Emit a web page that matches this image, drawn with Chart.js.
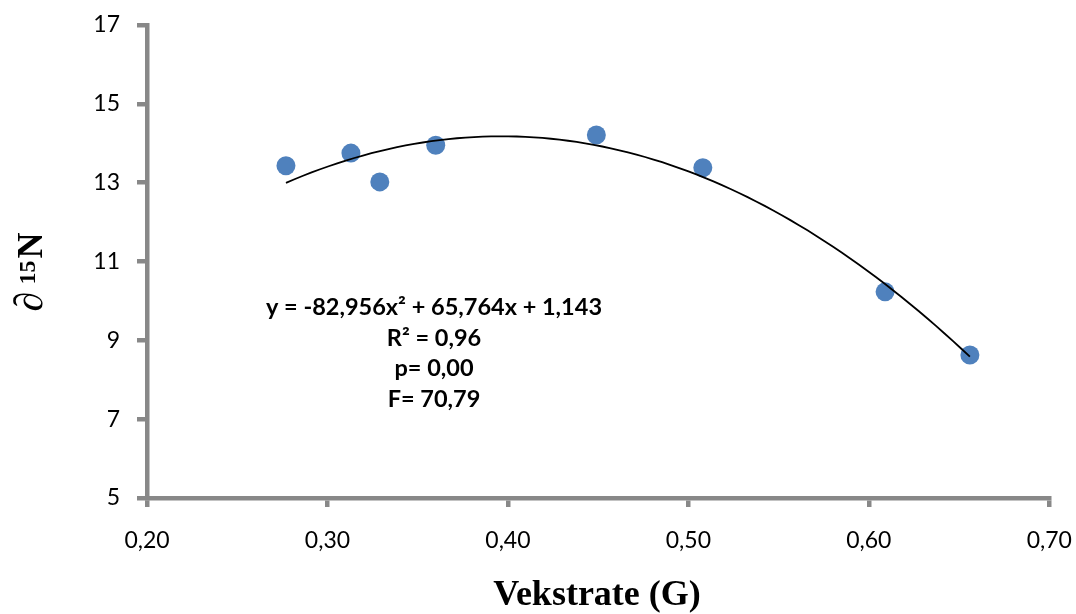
<!DOCTYPE html>
<html>
<head>
    <meta charset="UTF-8">
    <title>Vekstrate og d15N</title>
    <script src="https://cdn.jsdelivr.net/npm/chart.js"></script>
    <style>
        html, body { margin: 0; padding: 0; background: #ffffff; }
    </style>
</head>
<body>
    <canvas id="chart" width="1076" height="614"></canvas>

    <script>
        // Punkter lest av figuren
        var vekstrate = [0.277, 0.313, 0.329, 0.360, 0.449, 0.508, 0.609, 0.656];
        var delta15N = [13.43, 13.75, 13.02, 13.95, 14.21, 13.38, 10.23, 8.63];

        // Polynomisk trendlinje (2. grad) slik den står i figuren: a, b, c
        var trendCoef = [-82.956, 65.764, 1.143];

        var xTicks = [0.20, 0.30, 0.40, 0.50, 0.60, 0.70];
        var yTicks = [5, 7, 9, 11, 13, 15, 17];

        var xTitle = 'Vekstrate (G)';
        var yTitleParts = ['\u2202', '15', 'N'];
        var statLines = ['y = -82,956x\u00b2 + 65,764x + 1,143', 'R\u00b2 = 0,96', 'p= 0,00', 'F= 70,79'];

        var axisGrey = '#888888';

        // punktene til scatter
        var points = vekstrate.map(function(v, i) {
            return { x: v, y: delta15N[i] };
        });

        // trendlinjen tegnes fra minste til største x
        var trendPoints = [];
        var xMin = Math.min.apply(null, vekstrate);
        var xMax = Math.max.apply(null, vekstrate);
        for (var i = 0; i <= 80; i++) {
            var x = xMin + (xMax - xMin) * i / 80;
            trendPoints.push({ x: x, y: trendCoef[0] * x * x + trendCoef[1] * x + trendCoef[2] });
        }

        // aksetitler og tekstboks
        var textPlugin = {
            id: 'textPlugin',
            afterDraw: function(chart) {
                var ctx = chart.ctx;
                ctx.save();
                ctx.fillStyle = '#000';

                // statistikk
                ctx.font = 'bold 23.5px Lato';
                ctx.textAlign = 'center';
                ctx.textBaseline = 'alphabetic';
                var baselines = [315, 345.5, 376, 406.5];
                statLines.forEach(function(t, i) {
                    ctx.fillText(t, 434, baselines[i]);
                });

                // x-tittel
                ctx.font = 'bold 36px "Liberation Serif"';
                ctx.fillText(xTitle, 597, 605);

                // y-tittel, rotert
                ctx.translate(42, 272);
                ctx.rotate(-Math.PI / 2);
                ctx.textAlign = 'left';
                var f0 = 'italic 40px "Liberation Serif"';
                var f1 = 'bold 24px "Liberation Serif"';
                var f2 = 'bold 36px "Liberation Serif"';
                ctx.font = f0; var w0 = ctx.measureText(yTitleParts[0]).width;
                ctx.font = f1; var w1 = ctx.measureText(yTitleParts[1]).width;
                ctx.font = f2; var w2 = ctx.measureText(yTitleParts[2]).width;
                var gap = 7;
                var total = w0 + gap + w1 + 2 + w2;
                var px = -total / 2;
                ctx.font = f0; ctx.fillText(yTitleParts[0], px, 0);
                px += w0 + gap;
                ctx.font = f1; ctx.fillText(yTitleParts[1], px, -7);
                px += w1 + 2;
                ctx.font = f2; ctx.fillText(yTitleParts[2], px, 0);

                ctx.restore();
            }
        };

        var ctx = document.getElementById('chart').getContext('2d');
        var chart = new Chart(ctx, {
            type: 'scatter',
            data: {
                datasets: [{
                    label: 'Trend',
                    data: trendPoints,
                    showLine: true,
                    borderColor: '#000000',
                    borderWidth: 1.8,
                    pointRadius: 0,
                    pointHoverRadius: 0,
                    tension: 0
                }, {
                    label: 'd15N',
                    data: points,
                    backgroundColor: '#4F81BD',
                    borderColor: '#4F81BD',
                    borderWidth: 0,
                    pointRadius: 9.5,
                    pointHoverRadius: 9.5
                }]
            },
            options: {
                responsive: false,
                devicePixelRatio: 1,
                animation: false,
                layout: {
                    padding: { left: 0, top: 25, right: 26.7, bottom: 0 }
                },
                plugins: {
                    legend: { display: false },
                    tooltip: { enabled: false }
                },
                scales: {
                    x: {
                        type: 'linear',
                        min: 0.2,
                        max: 0.7,
                        afterBuildTicks: function(scale) {
                            scale.ticks = xTicks.map(function(v) { return { value: v }; });
                        },
                        afterFit: function(scale) {
                            scale.height = 116;
                            scale.paddingLeft = 0;
                            scale.paddingRight = 0;
                        },
                        ticks: {
                            color: '#000',
                            padding: 19.5,
                            maxRotation: 0,
                            font: { family: 'Lato', size: 23 },
                            callback: function(v) { return Number(v).toFixed(2).replace('.', ','); }
                        },
                        grid: {
                            drawOnChartArea: false,
                            drawTicks: true,
                            tickLength: 9,
                            color: axisGrey,
                            lineWidth: 4.5
                        },
                        border: { display: true, color: axisGrey, width: 4.5 }
                    },
                    y: {
                        type: 'linear',
                        min: 5,
                        max: 17,
                        afterBuildTicks: function(scale) {
                            scale.ticks = yTicks.map(function(v) { return { value: v }; });
                        },
                        afterFit: function(scale) {
                            scale.width = 147;
                            scale.paddingTop = 0;
                            scale.paddingBottom = 0;
                        },
                        ticks: {
                            color: '#000',
                            padding: 17,
                            font: { family: 'Lato', size: 23 },
                            callback: function(v) { return String(v); }
                        },
                        grid: {
                            drawOnChartArea: false,
                            drawTicks: true,
                            tickLength: 10,
                            color: axisGrey,
                            lineWidth: 4.5
                        },
                        border: { display: true, color: axisGrey, width: 4.5 }
                    }
                }
            },
            plugins: [textPlugin]
        });
    </script>
</body>
</html>
